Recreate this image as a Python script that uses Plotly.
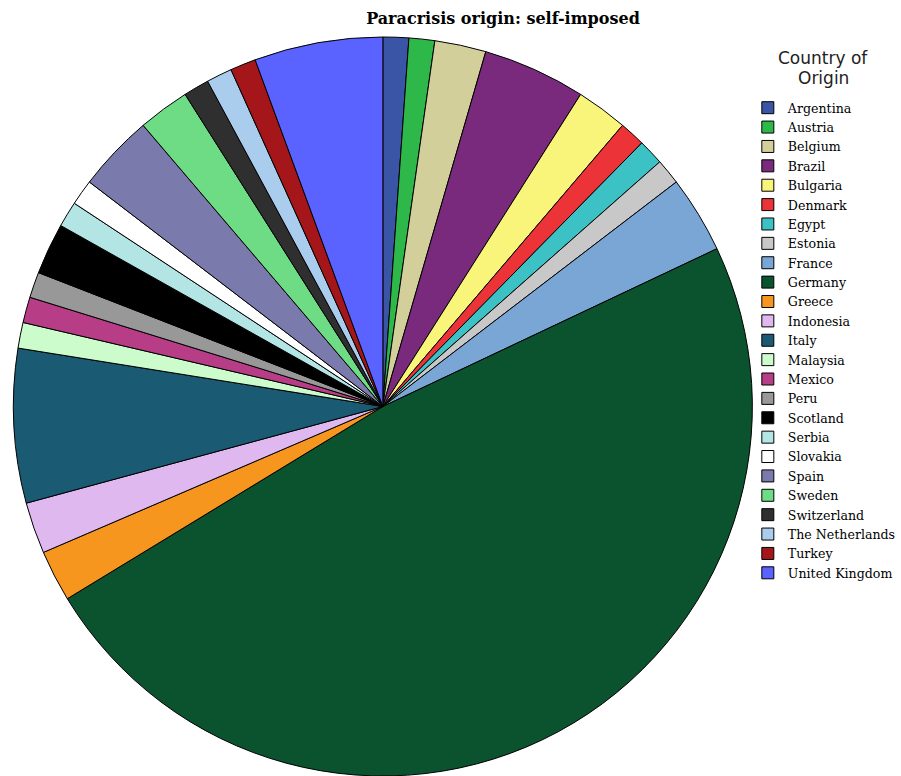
import plotly.graph_objects as go

countries = ["Argentina", "Austria", "Belgium", "Brazil", "Bulgaria", "Denmark", "Egypt",
             "Estonia", "France", "Germany", "Greece", "Indonesia", "Italy", "Malaysia",
             "Mexico", "Peru", "Scotland", "Serbia", "Slovakia", "Spain", "Sweden",
             "Switzerland", "The Netherlands", "Turkey", "United Kingdom"]
counts = [1, 1, 2, 4, 2, 1, 1, 1, 3, 43, 2, 2, 6, 1, 1, 1, 2, 1, 1, 3, 2, 1, 1, 1, 5]
colors = ["#3a55a5", "#2fb84a", "#d3cf9b", "#7a2a7c", "#f9f47a", "#ec3338", "#3cc2c4",
          "#c8c8c8", "#7aa6d6", "#0b532e", "#f6961e", "#dfb8f0", "#1a5a72", "#ccfccc",
          "#b83d87", "#989898", "#000000", "#b3e5e5", "#ffffff", "#7b7aad", "#6ddc85",
          "#2f2f2f", "#aacdee", "#a5161b", "#5a62ff"]
legend_title_lines = ["Country of", "Origin"]

fig = go.Figure(go.Pie(
    labels=countries, values=counts, sort=False, direction="clockwise", rotation=0,
    marker=dict(colors=colors, line=dict(color="#000000", width=1)),
    textinfo="none", hoverinfo="label+value",
    domain=dict(x=[11/901, 759/901], y=[0, 739/776]),
))

for i, line in enumerate(legend_title_lines):
    fig.add_annotation(text=line, xref="paper", yref="paper", x=828/901, y=1 - (58 + 20*i)/776,
                       xanchor="center", yanchor="middle", showarrow=False,
                       font=dict(family="DejaVu Sans", size=17, color="#222"))

fig.update_layout(
    width=901, height=776,
    margin=dict(l=0, r=0, t=0, b=0),
    paper_bgcolor="white", plot_bgcolor="white",
    title=dict(text="<b>Paracrisis origin: self-imposed</b>", x=503/901, xanchor="center",
               y=1 - 18/776, yanchor="middle",
               font=dict(family="DejaVu Serif", size=16, color="black")),
    legend=dict(
        font=dict(family="DejaVu Serif", size=12.6, color="black"),
        x=752/901, xanchor="left", y=1 - 93/776, yanchor="top",
        bgcolor="rgba(0,0,0,0)", traceorder="normal",
        itemwidth=30, tracegroupgap=0,
    ),
)

fig.write_html("out.html")
